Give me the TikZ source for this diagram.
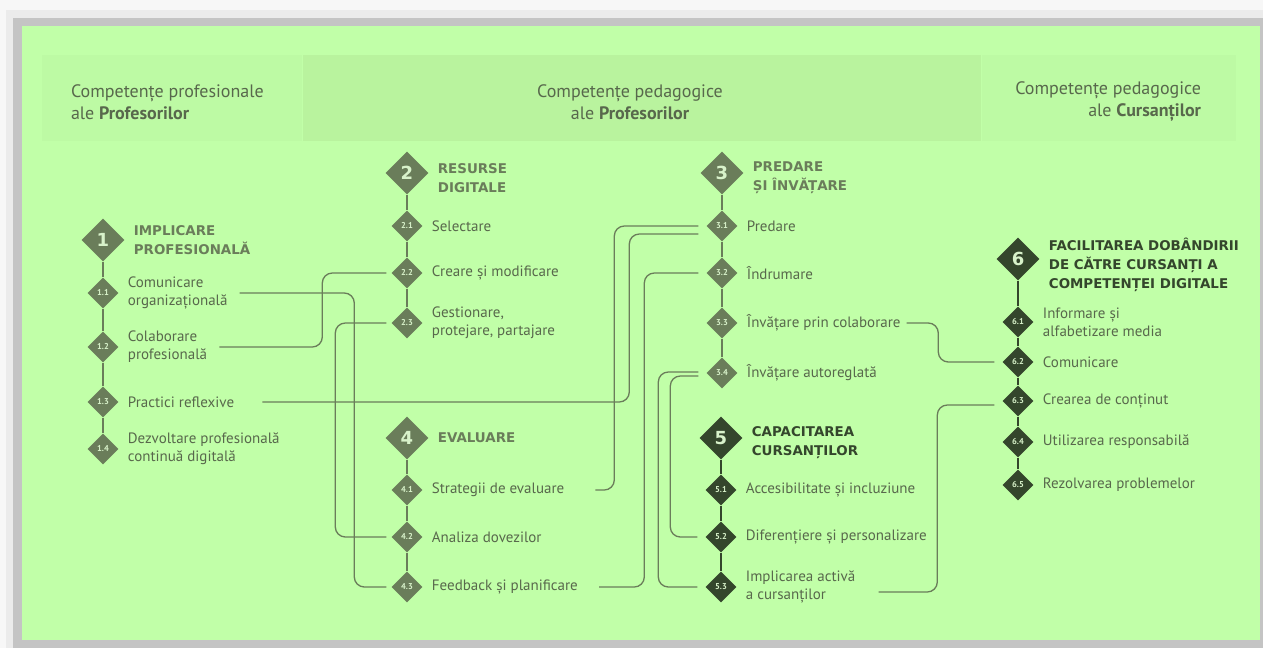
\documentclass[tikz,border=0pt]{standalone}
\usepackage{fontspec}
\setmainfont{PT Sans}
\newfontfamily\rotulo{DejaVu Sans}
\usepackage{tikz}
\usetikzlibrary{shapes.geometric, positioning}
\definecolor{fondo}{RGB}{193,255,168}
\definecolor{cajalado}{RGB}{189,250,164}
\definecolor{cajamedia}{RGB}{185,243,158}
\definecolor{sombra}{RGB}{196,196,196}
\definecolor{claro}{RGB}{106,125,90}
\definecolor{oscuro}{RGB}{52,70,44}
\definecolor{texto}{RGB}{88,104,76}
\definecolor{cifra}{RGB}{216,242,202}
\tikzset{
	x=1pt, y=-1pt, % Coordenadas en puntos, eje y hacia abajo
	area/.style={diamond, fill=#1, text=cifra, inner sep=0pt, minimum width=43pt, minimum height=43pt, font=\rotulo\bfseries\fontsize{18}{18}\selectfont}, % Rombo grande de cada area
	sub/.style={diamond, fill=#1, text=cifra, inner sep=0pt, minimum width=31pt, minimum height=31pt, font=\bfseries\fontsize{8.5}{8.5}\selectfont}, % Rombo de cada competencia
	titulo/.style={right=9pt of #1, inner sep=0pt, align=left, font=\rotulo\bfseries\fontsize{13.4}{19}\selectfont}, % Nombre del area
	etiqueta/.style={right=9pt of #1, inner sep=0pt, align=left, text=texto, font=\fontsize{15}{18}\selectfont}, % Nombre de la competencia
	caja/.style={fill=#1, minimum height=86pt, inner sep=0pt}, % Recuadro de la cabecera
	cabecera/.style={inner sep=0pt, text=texto, font=\fontsize{18}{22}\selectfont}, % Texto de la cabecera
	eje/.style={draw=#1, line width=1.6pt}, % Linea vertical de cada area
	enlace/.style={draw=claro, line width=1.3pt, rounded corners=10pt} % Conexion entre competencias
}

\begin{document}
\begin{tikzpicture}[node distance=50pt]
	\useasboundingbox (0,0) rectangle (1263,648);
	% fondo y sombra
	\fill[black!3] (0,0) rectangle (1263,648);
	\fill[black!8] (6,10) rectangle (1263,648);
	\fill[sombra] (13,18) rectangle (1263,648);
	\fill[fondo] (22,26) rectangle (1260,640);

	% cabecera
	\node[caja=cajalado, minimum width=260pt] (h1) at (172,98) {};
	\node[caja=cajamedia, minimum width=678pt] (h2) at (642,98) {};
	\node[caja=cajalado, minimum width=254pt] (h3) at (1109,98) {};
	\node[cabecera, align=left, right=29pt of h1.west, yshift=-4pt] (c1) {Competențe profesionale\\ale \textbf{Profesorilor}};
	\node[cabecera, align=center] (c2) at ([xshift=-12pt,yshift=-4pt]h2.center) {Competențe pedagogice\\ale \textbf{Profesorilor}};
	\node[cabecera, align=right, left=35pt of h3.east, yshift=-4pt] (c3) {Competențe pedagogice\\ale \textbf{Cursanților}};

	% area 1
	\node[area=claro] (d1) at (103,240) {1};
	\node[titulo=d1, text=claro] (n1) {IMPLICARE\\PROFESIONALĂ};
	\node[sub=claro, below of=d1, node distance=53pt] (d11) {1.1};
	\node[sub=claro, below of=d11, node distance=54pt] (d12) {1.2};
	\node[sub=claro, below of=d12, node distance=55pt] (d13) {1.3};
	\node[sub=claro, below of=d13, node distance=47pt] (d14) {1.4};
	\node[etiqueta=d11] (t11) {Comunicare\\organizațională};
	\node[etiqueta=d12] (t12) {Colaborare\\profesională};
	\node[etiqueta=d13] (t13) {Practici reflexive};
	\node[etiqueta=d14] (t14) {Dezvoltare profesională\\continuă digitală};

	% area 2
	\node[area=claro] (d2) at (407,173) {2};
	\node[titulo=d2, text=claro, yshift=-5pt] (n2) {RESURSE\\DIGITALE};
	\node[sub=claro, below of=d2, node distance=53pt] (d21) {2.1};
	\node[sub=claro, below of=d21, node distance=47pt] (d22) {2.2};
	\node[sub=claro, below of=d22] (d23) {2.3};
	\node[etiqueta=d21] (t21) {Selectare};
	\node[etiqueta=d22] (t22) {Creare și modificare};
	\node[etiqueta=d23] (t23) {Gestionare,\\protejare, partajare};

	% area 4
	\node[area=claro] (d4) at (407,438) {4};
	\node[titulo=d4, text=claro] (n4) {EVALUARE};
	\node[sub=claro, below of=d4, node distance=52pt] (d41) {4.1};
	\node[sub=claro, below of=d41, node distance=47pt] (d42) {4.2};
	\node[sub=claro, below of=d42] (d43) {4.3};
	\node[etiqueta=d41] (t41) {Strategii de evaluare};
	\node[etiqueta=d42] (t42) {Analiza dovezilor};
	\node[etiqueta=d43] (t43) {Feedback și planificare};

	% area 3
	\node[area=claro] (d3) at (722,173) {3};
	\node[titulo=d3, text=claro, yshift=-5pt] (n3) {PREDARE\\ȘI ÎNVĂȚARE};
	\node[sub=claro, below of=d3, node distance=53pt] (d31) {3.1};
	\node[sub=claro, below of=d31, node distance=47pt] (d32) {3.2};
	\node[sub=claro, below of=d32] (d33) {3.3};
	\node[sub=claro, below of=d33] (d34) {3.4};
	\node[etiqueta=d31] (t31) {Predare};
	\node[etiqueta=d32] (t32) {Îndrumare};
	\node[etiqueta=d33] (t33) {Învățare prin colaborare};
	\node[etiqueta=d34] (t34) {Învățare autoreglată};

	% area 5
	\node[area=oscuro] (d5) at (721,438) {5};
	\node[titulo=d5, text=oscuro, yshift=-5pt] (n5) {CAPACITAREA\\CURSANȚILOR};
	\node[sub=oscuro, below of=d5, node distance=52pt] (d51) {5.1};
	\node[sub=oscuro, below of=d51, node distance=47pt] (d52) {5.2};
	\node[sub=oscuro, below of=d52] (d53) {5.3};
	\node[etiqueta=d51] (t51) {Accesibilitate și incluziune};
	\node[etiqueta=d52] (t52) {Diferențiere și personalizare};
	\node[etiqueta=d53] (t53) {Implicarea activă\\a cursanților};

	% area 6
	\node[area=oscuro] (d6) at (1018,259) {6};
	\node[titulo=d6, text=oscuro, yshift=-6pt] (n6) {FACILITAREA DOBÂNDIRII\\DE CĂTRE CURSANȚI A\\COMPETENȚEI DIGITALE};
	\node[sub=oscuro, below of=d6, node distance=63pt] (d61) {6.1};
	\node[sub=oscuro, below of=d61, node distance=40pt] (d62) {6.2};
	\node[sub=oscuro, below of=d62, node distance=39pt] (d63) {6.3};
	\node[sub=oscuro, below of=d63, node distance=41pt] (d64) {6.4};
	\node[sub=oscuro, below of=d64, node distance=43pt] (d65) {6.5};
	\node[etiqueta=d61] (t61) {Informare și\\alfabetizare media};
	\node[etiqueta=d62] (t62) {Comunicare};
	\node[etiqueta=d63] (t63) {Crearea de conținut};
	\node[etiqueta=d64] (t64) {Utilizarea responsabilă};
	\node[etiqueta=d65] (t65) {Rezolvarea problemelor};

	% ejes verticales
	\foreach \a/\b in {d1/d11, d11/d12, d12/d13, d13/d14, d2/d21, d21/d22, d22/d23,
		d4/d41, d41/d42, d42/d43, d3/d31, d31/d32, d32/d33, d33/d34}
		\draw[eje=claro] (\a) -- (\b);
	\foreach \a/\b in {d5/d51, d51/d52, d52/d53, d6/d61, d61/d62, d62/d63, d63/d64, d64/d65}
		\draw[eje=oscuro] (\a) -- (\b);

	% conexiones
	\draw[enlace] ([xshift=12pt]t11.east) -| ([xshift=-37pt]d43.west) -- ([xshift=-5pt]d43.west);
	\draw[enlace] ([xshift=12pt]t12.east) -| ([xshift=-69pt]d22.west) -- ([xshift=-5pt]d22.west);
	\draw[enlace] ([xshift=-5pt]d23.west) -| ([xshift=-56pt]d42.west) -- ([xshift=-5pt]d42.west);
	\draw[enlace] ([xshift=28pt]t13.east) -| ([xshift=-77pt,yshift=-8pt]d31.west) -- ([xshift=-8pt,yshift=-8pt]d31.west);
	\draw[enlace] ([xshift=31pt]t41.east) -| ([xshift=-92pt]d31.west) -- ([xshift=-8pt]d31.west);
	\draw[enlace] ([xshift=21pt]t43.east) -| ([xshift=-62pt]d32.west) -- ([xshift=-8pt]d32.west);
	\draw[enlace] ([xshift=-8pt,yshift=1pt]d34.west) -| ([xshift=-47pt]d53.west) -- ([xshift=-8pt]d53.west);
	\draw[enlace] ([xshift=-8pt,yshift=-3pt]d34.west) -| ([xshift=-35pt]d52.west) -- ([xshift=-8pt]d52.west);
	\draw[enlace] ([xshift=6pt]t33.east) -| ([xshift=-64pt]d62.west) -- ([xshift=-8pt]d62.west);
	\draw[enlace] ([xshift=23pt,yshift=-5pt]t53.east) -| ([xshift=-65pt,yshift=-4pt]d63.west) -- ([xshift=-8pt,yshift=-4pt]d63.west);
\end{tikzpicture}
\end{document}
